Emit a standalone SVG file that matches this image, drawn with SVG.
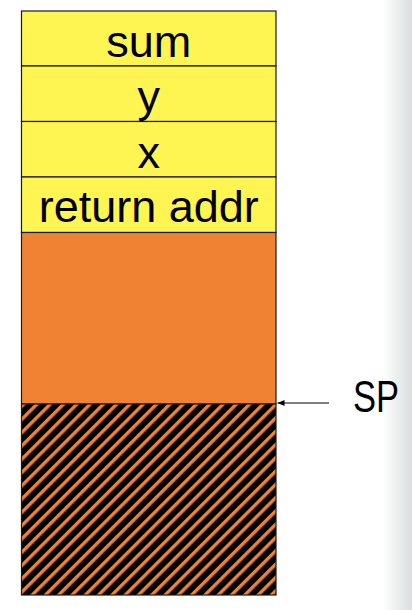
<svg xmlns="http://www.w3.org/2000/svg" width="412" height="610" viewBox="0 0 412 610">
<style>
.cell{stroke:#1a1a1a;stroke-width:1.2}
.y{fill:#FFF552}
.o{fill:#F08233}
.t{font-family:"Liberation Sans",Arial,sans-serif;font-size:45px;fill:#000;text-anchor:middle}
.c{stroke:#000;stroke-width:1;fill:none}
</style>
<defs>
<linearGradient id="edge" x1="0" y1="0" x2="1" y2="0">
<stop offset="0" stop-color="#ffffff"/>
<stop offset="1" stop-color="#dadede"/>
</linearGradient>
<pattern id="hatch" patternUnits="userSpaceOnUse" width="9.4" height="9.4" patternTransform="rotate(45)">
<rect width="9.4" height="9.4" fill="#000"/>
<rect width="3.4" height="9.4" fill="#F08233"/>
</pattern>
<marker id="ah" markerWidth="8" markerHeight="8" refX="7" refY="4" orient="auto" markerUnits="userSpaceOnUse">
<path d="M0,1 L7,4 L0,7 Z" fill="#000"/>
</marker>
</defs>
<rect width="412" height="610" fill="#fff"/>
<rect x="382" y="0" width="30" height="610" fill="url(#edge)"/>
<g id="cell-sum"><rect class="cell y" x="21.5" y="11" width="254.5" height="55"/><text class="t" x="148.75" y="57">sum</text></g>
<g id="cell-y"><rect class="cell y" x="21.5" y="66" width="254.5" height="55.5"/><text class="t" x="148.75" y="112">y</text></g>
<g id="cell-x"><rect class="cell y" x="21.5" y="121.5" width="254.5" height="55.5"/><text class="t" x="148.75" y="168">x</text></g>
<g id="cell-ret"><rect class="cell y" x="21.5" y="177" width="254.5" height="55.5"/><text class="t" x="148.75" y="222">return addr</text></g>
<g id="cell-orange"><rect class="cell o" x="21.5" y="232.5" width="254.5" height="171.5"/></g>
<g id="cell-hatch"><rect class="cell" x="21.5" y="404" width="254.5" height="191" fill="url(#hatch)"/></g>
<g id="sp-label"><text class="t" x="376" y="412" textLength="46" lengthAdjust="spacingAndGlyphs">SP</text></g>
<g id="connectors"><line class="c" x1="329" y1="403" x2="277.5" y2="403" marker-end="url(#ah)"/></g>
</svg>
